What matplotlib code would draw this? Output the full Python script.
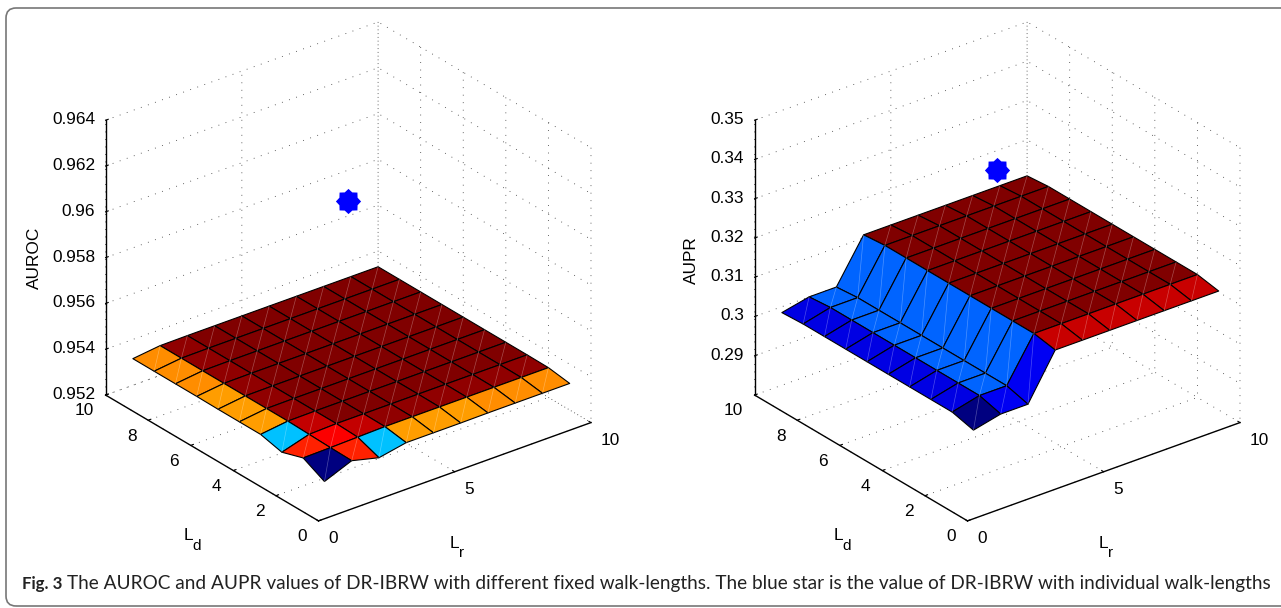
import numpy as np
import matplotlib
matplotlib.use('Agg')
import matplotlib.pyplot as plt
from matplotlib.colors import LinearSegmentedColormap
from matplotlib.patches import FancyBboxPatch
from matplotlib.path import Path
from matplotlib.transforms import IdentityTransform

plt.rcParams['font.family'] = 'Liberation Sans'

walk_lengths = list(range(1, 11))

# rows are Ld = 1..10, columns are Lr = 1..10
auroc = [
    [.95274, .95322, .95292, .95315, .95315, .95315, .95316, .95316, .95316, .95316],
    [.95322, .95324, .95327, .95330, .95330, .95330, .95330, .95330, .95330, .95330],
    [.95292, .95327, .95331, .95331, .95331, .95331, .95331, .95331, .95331, .95331],
    [.95315, .95330, .95331, .95331, .95331, .95331, .95331, .95331, .95331, .95331],
    [.95315, .95330, .95331, .95331, .95331, .95331, .95331, .95331, .95331, .95331],
    [.95315, .95330, .95331, .95331, .95331, .95331, .95331, .95331, .95331, .95331],
    [.95316, .95330, .95331, .95331, .95331, .95331, .95331, .95331, .95331, .95331],
    [.95316, .95330, .95331, .95331, .95331, .95331, .95331, .95331, .95331, .95331],
    [.95316, .95330, .95331, .95331, .95331, .95331, .95331, .95331, .95331, .95331],
    [.95316, .95330, .95331, .95331, .95331, .95331, .95331, .95331, .95331, .95331],
]
aupr = [
    [.2974, .2990, .2990, .3103, .3103, .3103, .3103, .3103, .3103, .3103],
    [.2988, .3005, .3005, .3113, .3113, .3113, .3113, .3113, .3113, .3113],
    [.2988, .3005, .3005, .3113, .3113, .3113, .3113, .3113, .3113, .3113],
    [.2988, .3005, .3005, .3113, .3113, .3113, .3113, .3113, .3113, .3113],
    [.2988, .3005, .3005, .3113, .3113, .3113, .3113, .3113, .3113, .3113],
    [.2988, .3005, .3005, .3113, .3113, .3113, .3113, .3113, .3113, .3113],
    [.2988, .3005, .3005, .3113, .3113, .3113, .3113, .3113, .3113, .3113],
    [.2988, .3005, .3005, .3113, .3113, .3113, .3113, .3113, .3113, .3113],
    [.2988, .3005, .3005, .3113, .3113, .3113, .3113, .3113, .3113, .3113],
    [.2985, .3000, .3000, .3108, .3108, .3108, .3108, .3108, .3108, .3108],
]
star_auroc = (5, 5.0, 0.96108)
star_aupr = (5, 5.0, 0.3408)

lr_ticks = [0, 5, 10]
ld_ticks = [0, 2, 4, 6, 8, 10]
auroc_ticks = [0.952, 0.954, 0.956, 0.958, 0.96, 0.962, 0.964]
auroc_labels = ['0.952', '0.954', '0.956', '0.958', '0.96', '0.962', '0.964']
aupr_ticks = [0.29, 0.30, 0.31, 0.32, 0.33, 0.34, 0.35]
aupr_labels = ['0.29', '0.3', '0.31', '0.32', '0.33', '0.34', '0.35']

W, H = 1281, 608
fig = plt.figure(figsize=(W / 100, H / 100), dpi=100)
star_path = Path.unit_regular_star(8, innerCircle=0.78)
jet = LinearSegmentedColormap.from_list('matlab_jet', [
    (0, (0, 0, .5)), (.125, (0, 0, 1)), (.375, (0, 1, 1)),
    (.625, (1, 1, 0)), (.875, (1, 0, 0)), (1, (.5, 0, 0))])


def draw_panel(rect, values, star, zlim, zticks, zlabels):
    ax = fig.add_axes(rect, projection='3d', proj_type='ortho')
    ax.computed_zorder = False
    ax.view_init(elev=27.5, azim=-128)
    ax.set_box_aspect((1, 1, 0.896))
    ax.patch.set_alpha(0)
    Z = np.array(values)
    X, Y = np.meshgrid(walk_lengths, walk_lengths)
    norm = plt.Normalize(Z.min(), Z.max())
    ax.plot_surface(X, Y, Z, facecolors=jet(norm(Z)), rstride=1, cstride=1,
                    edgecolor='k', linewidth=0.8, shade=False, zorder=2)
    # faint triangle seams
    for i in range(9):
        for j in range(9):
            ax.plot([X[j, i], X[j + 1, i + 1]], [Y[j, i], Y[j + 1, i + 1]],
                    [Z[j, i], Z[j + 1, i + 1]], color='w', alpha=0.3, lw=0.5, zorder=3)
    ax.scatter([star[0]], [star[1]], [star[2]], marker=star_path, s=330, color='#0000ff',
               linewidths=0, depthshade=False, zorder=4)
    ax.set_xlim(0, 10)
    ax.set_ylim(0, 10)
    ax.set_zlim(*zlim)
    ax.set_xticks(lr_ticks)
    ax.set_yticks(ld_ticks)
    ax.set_zticks(zticks)
    ax.set_zticklabels(zlabels)
    for axis in (ax.xaxis, ax.yaxis, ax.zaxis):
        axis.set_pane_color((1, 1, 1, 0))
        axis.pane.set_edgecolor((1, 1, 1, 0))
        axis.line.set_color('k')
        axis.line.set_linewidth(1.0)
        axis._axinfo['grid'].update(color='#333333', linewidth=0.6, linestyle=(0, (1, 8)))
        axis._axinfo['tick'].update(inward_factor=0.0, outward_factor=0.12)
    ax.tick_params(axis='x', labelsize=12.4, pad=1.5)
    ax.tick_params(axis='y', labelsize=12.4, pad=1)
    ax.tick_params(axis='z', labelsize=12.4, pad=-3.5)
    ax.zaxis.set_ticks_position('upper')
    for label in ax.get_xticklabels():
        label.set_ha('left')
        label.set_va('center')
    for label in ax.get_yticklabels():
        label.set_ha('right')
        label.set_va('center')
    for label in ax.get_zticklabels():
        label.set_ha('right')
        label.set_va('center')
    return ax


draw_panel([59.7 / W, (H - 560) / H, 562 / W, 562 / H], auroc, star_auroc, (0.952, 0.964), auroc_ticks, auroc_labels)
draw_panel([708.7 / W, (H - 560) / H, 562 / W, 562 / H], aupr, star_aupr, (0.28, 0.35), aupr_ticks, aupr_labels)

fig.text(34 / W, 1 - 258 / H, 'AUROC', rotation=90, fontsize=12.4, ha='center', va='center')
fig.text(691 / W, 1 - 260 / H, 'AUPR', rotation=90, fontsize=12.4, ha='center', va='center')
for lx, ly, main, sub, gap in [(188, 536, 'L', 'd', 9), (454, 543, 'L', 'r', 7.5),
                               (838, 536, 'L', 'd', 9), (1103, 543, 'L', 'r', 7.5)]:
    fig.text(lx / W, 1 - ly / H, main, fontsize=12.4, ha='center', va='center')
    fig.text((lx + gap) / W, 1 - (ly + 10) / H, sub, fontsize=11, ha='center', va='center')

fig.add_artist(FancyBboxPatch((6, 2), 1300, 598, boxstyle='round,pad=0,rounding_size=10',
                              transform=IdentityTransform(), fill=False, edgecolor='#777777', linewidth=1.2))

fig.text(22 / W, 1 - 584 / H, 'Fig. 3', family='Lato', fontweight='bold', fontsize=12.2, va='center', color='#222222')
fig.text(67 / W, 1 - 584 / H,
         'The AUROC and AUPR values of DR-IBRW with different fixed walk-lengths. The blue star is the value of DR-IBRW with individual walk-lengths',
         family='Lato', fontsize=13.7, va='center', color='#222222')

fig.savefig('out.png', dpi=100)
